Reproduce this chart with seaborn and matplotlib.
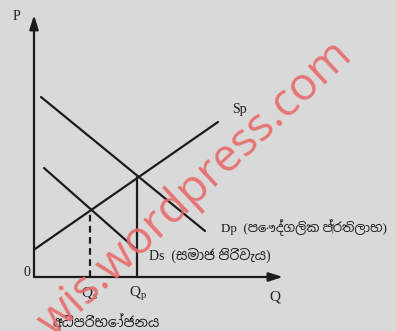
import matplotlib
matplotlib.use("Agg")
import matplotlib.pyplot as plt
from matplotlib import font_manager
import seaborn as sns

#Data---------------------------------------------------------------------------------------------
#quantity / price units: origin of the diagram is (0,0)
sp_q = [0.1, 18.4]          #private supply curve Sp
sp_p = [2.8, 15.5]
dp_q = [0.7, 17.1]          #private benefit demand Dp
dp_p = [18.0, 4.6]
ds_q = [1.0, 10.3]          #social cost curve Ds
ds_p = [10.9, 2.7]
qs = 5.6                    #social optimum quantity
ps = 6.7
qp = 10.3                   #private market quantity
pp = 10.0
q_max = 24.9                #axis lengths
p_max = 26.2

labels = {
    "sp": "Sp",
    "dp": "Dp  (පෞද්ගලික ප්\u200dරතිලාභ)",
    "ds": "Ds  (සමාජ පිරිවැය)",
    "over": "අධිපරිභෝජනය",
    "watermark": "wis.wordpress.com",
}

#Style--------------------------------------------------------------------------------------------
sns.set_theme(style="white")
bg = "#d9d9d9"
ink = "#1c1c1c"

#look for a font that can draw Sinhala, fall back to serif otherwise
sinhala = [f.name for f in font_manager.fontManager.ttflist if "sinhala" in f.name.lower()]
serif = ["Liberation Serif"] + sinhala[:1] + ["DejaVu Sans"]
plt.rcParams["font.family"] = serif

fig = plt.figure(figsize=(3.96, 3.31), dpi=100, facecolor=bg)
ax = fig.add_axes([0, 0, 1, 1])
ax.set_facecolor(bg)
ax.set_xlim(-3.4, 36.2)
ax.set_ylim(-5.4, 27.7)
ax.axis("off")

#axes with arrow heads
arrow = dict(arrowstyle="-|>,head_length=0.7,head_width=0.22", color=ink, lw=1.6, shrinkA=0, shrinkB=0)
ax.annotate("", xy=(0, p_max), xytext=(0, 0), arrowprops=arrow)
ax.annotate("", xy=(q_max, 0), xytext=(0, 0), arrowprops=arrow)

#curves (estimator=None so seaborn draws the raw points, no CI band)
line = dict(color=ink, lw=1.6, estimator=None, sort=False, ax=ax)
sns.lineplot(x=sp_q, y=sp_p, **line)
sns.lineplot(x=dp_q, y=dp_p, **line)
sns.lineplot(x=ds_q, y=ds_p, **line)

#quantity guides
sns.lineplot(x=[qs, qs], y=[0, ps], linestyle=(0, (3, 2)), **line)
sns.lineplot(x=[qp, qp], y=[0, pp], **line)

#labels
ax.text(-1.8, p_max - 0.2, "P", fontsize=10, color=ink, ha="center", va="center")
ax.text(-0.7, 0.4, "0", fontsize=10, color=ink, ha="center", va="center")
ax.text(q_max - 0.8, -2.0, "Q", fontsize=11, color=ink, ha="center", va="center")
ax.text(qs - 0.1, -1.7, "Q$_\\mathregular{s}$", fontsize=11, color=ink, ha="center", va="center")
ax.text(qp + 0.1, -1.7, "Q$_\\mathregular{p}$", fontsize=11, color=ink, ha="center", va="center")
ax.text(sp_q[1] + 1.4, sp_p[1] + 1.2, labels["sp"], fontsize=10, color=ink, va="center")
ax.text(dp_q[1] + 1.6, dp_p[1] + 0.3, labels["dp"], fontsize=9.4, color=ink, va="center")
ax.text(ds_q[1] + 1.2, ds_p[1] - 0.5, labels["ds"], fontsize=10, color=ink, va="center")
ax.text(qs + 1.6, -4.5, labels["over"], fontsize=10, color=ink, ha="center", va="center")

#watermark
ax.text(16.1, 8.8, labels["watermark"], fontsize=33, color="#e86a6a", alpha=0.9,
        family="Open Sans", rotation=43, ha="center", va="center", zorder=10)

fig.savefig("out.png", dpi=100, facecolor=bg)
